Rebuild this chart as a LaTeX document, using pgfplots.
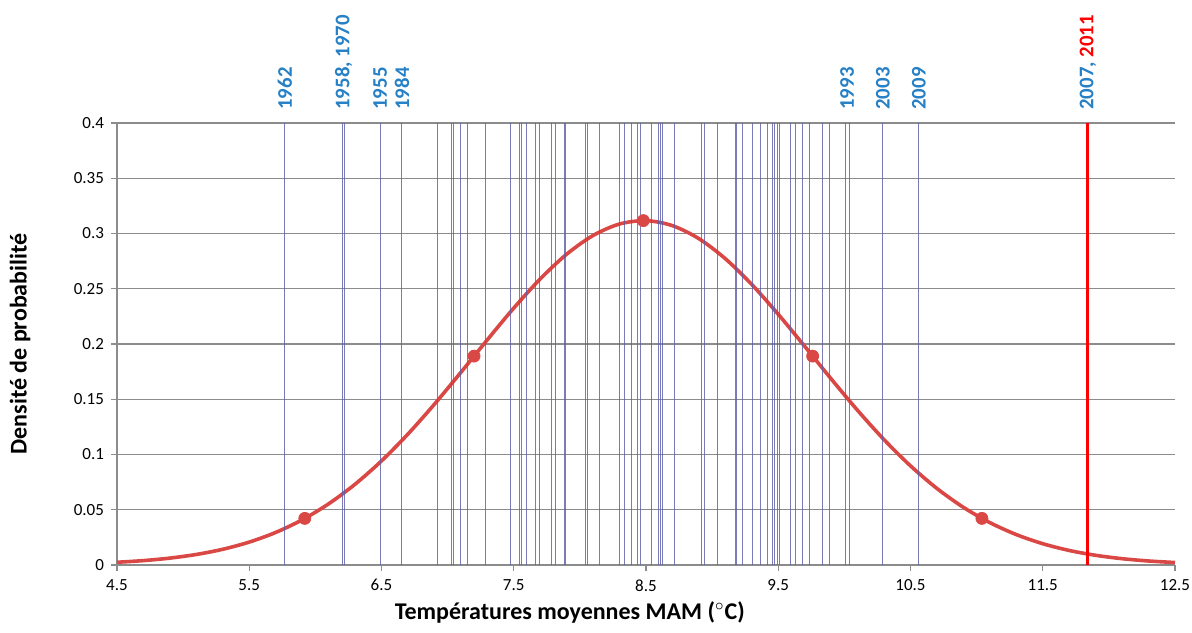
\documentclass[border=0pt]{standalone}
\usepackage{pgfplots}
\pgfplotsset{compat=1.18}
\usepackage{fontspec}
\setmainfont{Carlito}
\definecolor{curvered}{RGB}{218,72,70}
\definecolor{yearblue}{RGB}{38,128,198}
\definecolor{linepurple}{RGB}{90,90,165}
\definecolor{gridgray}{RGB}{140,140,140}
\begin{document}
\begin{tikzpicture}
\begin{axis}[
 name=ax,
 width=529pt, height=221pt, scale only axis,
 xmin=4.5, xmax=12.5, ymin=0, ymax=0.4,
 axis x line*=bottom, axis y line*=left,
 axis line style={gridgray, line width=0.6pt},
 xtick={4.5,5.5,6.5,7.5,8.5,9.5,10.5,11.5,12.5},
 xticklabels={4.5,5.5,6.5,7.5,8.5,9.5,10.5,11.5,12.5},
 ytick={0,0.05,0.1,0.15,0.2,0.25,0.3,0.35,0.4},
 yticklabels={0,0.05,0.1,0.15,0.2,0.25,0.3,0.35,0.4},
 tick align=outside, major tick length=3pt,
 tick style={gridgray, line width=0.6pt},
 ymajorgrids, grid style={gridgray, line width=0.6pt},
 ticklabel style={font=\fontsize{8.5}{10}\selectfont},
 xticklabel style={inner xsep=0.5pt, inner ysep=4pt},
 /pgf/number format/assume math mode=true,
 xlabel={Températures moyennes MAM ($^\circ$C)},
 ylabel={Densité de probabilité},
 xlabel style={font=\fontsize{12}{14}\selectfont\bfseries, at={(axis description cs:0.428,-0.1063)}, anchor=center},
 ylabel style={font=\fontsize{12}{14}\selectfont\bfseries, at={(axis description cs:-0.0917,0.5)}, anchor=center},
 clip=false,
]
% normal density curve (mean 8.48, sd 1.28)
\addplot[curvered, line width=1.8pt, smooth, no marks] coordinates {
(4.5,0.002480) (4.7,0.003981) (4.9,0.006238) (5.1,0.009540) (5.3,0.014237)
(5.5,0.020736) (5.7,0.029473) (5.9,0.040876) (6.1,0.055332) (6.3,0.073087)
(6.5,0.094213) (6.7,0.118514) (6.9,0.145491) (7.1,0.174300) (7.3,0.203778)
(7.5,0.232494) (7.7,0.258862) (7.9,0.281266) (8.1,0.298238) (8.3,0.308607)
(8.5,0.311636) (8.7,0.307104) (8.9,0.295339) (9.1,0.277176) (9.3,0.253853)
(9.5,0.226887) (9.7,0.197894) (9.9,0.168444) (10.1,0.139918) (10.3,0.113419)
(10.5,0.089722) (10.7,0.069264) (10.9,0.052181) (11.1,0.038363) (11.3,0.027525)
(11.5,0.019272) (11.7,0.013168) (11.9,0.008780) (12.1,0.005714) (12.3,0.003628)
(12.5,0.002248)
};
\addplot[only marks, mark=*, mark size=3pt, curvered] coordinates {
(5.92,0.04218) (7.20,0.18904) (8.48,0.31167) (9.76,0.18904) (11.04,0.04218)
};
% yearly values
\addplot[ycomb, linepurple, opacity=0.8, line width=0.5pt] coordinates {
(5.770,0.4) (6.205,0.4) (6.224,0.4) (6.489,0.4) (6.655,0.4) (6.920,0.4)
(7.026,0.4) (7.048,0.4) (7.094,0.4) (7.154,0.4) (7.283,0.4) (7.479,0.4)
(7.540,0.4) (7.555,0.4) (7.600,0.4) (7.661,0.4) (7.698,0.4) (7.782,0.4)
(7.812,0.4) (7.880,0.4) (7.888,0.4) (7.895,0.4) (8.046,0.4) (8.054,0.4)
(8.145,0.4) (8.303,0.4) (8.334,0.4) (8.387,0.4) (8.394,0.4) (8.432,0.4)
(8.455,0.4) (8.538,0.4) (8.591,0.4) (8.613,0.4) (8.621,0.4) (8.719,0.4)
(8.916,0.4) (8.946,0.4) (9.037,0.4) (9.173,0.4) (9.181,0.4) (9.233,0.4)
(9.309,0.4) (9.362,0.4) (9.415,0.4) (9.453,0.4) (9.475,0.4) (9.491,0.4)
(9.513,0.4) (9.589,0.4) (9.634,0.4) (9.687,0.4) (9.740,0.4) (9.831,0.4)
(9.838,0.4) (9.884,0.4) (10.005,0.4) (10.035,0.4) (10.292,0.4) (10.564,0.4)
};
\addplot[ycomb, red, line width=1.5pt] coordinates {(11.842,0.4)};
% year labels
\begin{scope}[every node/.style={rotate=90, anchor=west, inner sep=0pt, text=yearblue, font=\fontsize{10.4}{12}\selectfont\bfseries}]
\node at (axis cs:5.770,0.4118) {1962};
\node at (axis cs:6.214,0.4118) {1958, 1970};
\node at (axis cs:6.489,0.4118) {1955};
\node at (axis cs:6.655,0.4118) {1984};
\node at (axis cs:10.020,0.4118) {1993};
\node at (axis cs:10.292,0.4118) {2003};
\node at (axis cs:10.564,0.4118) {2009};
\node at (axis cs:11.842,0.4118) {2007, \textcolor{red}{2011}};
\end{scope}
\end{axis}
\path (ax.south west) +(-58.5pt,-33.5pt) (ax.north east) +(8.5pt,61.5pt);
\end{tikzpicture}
\end{document}
